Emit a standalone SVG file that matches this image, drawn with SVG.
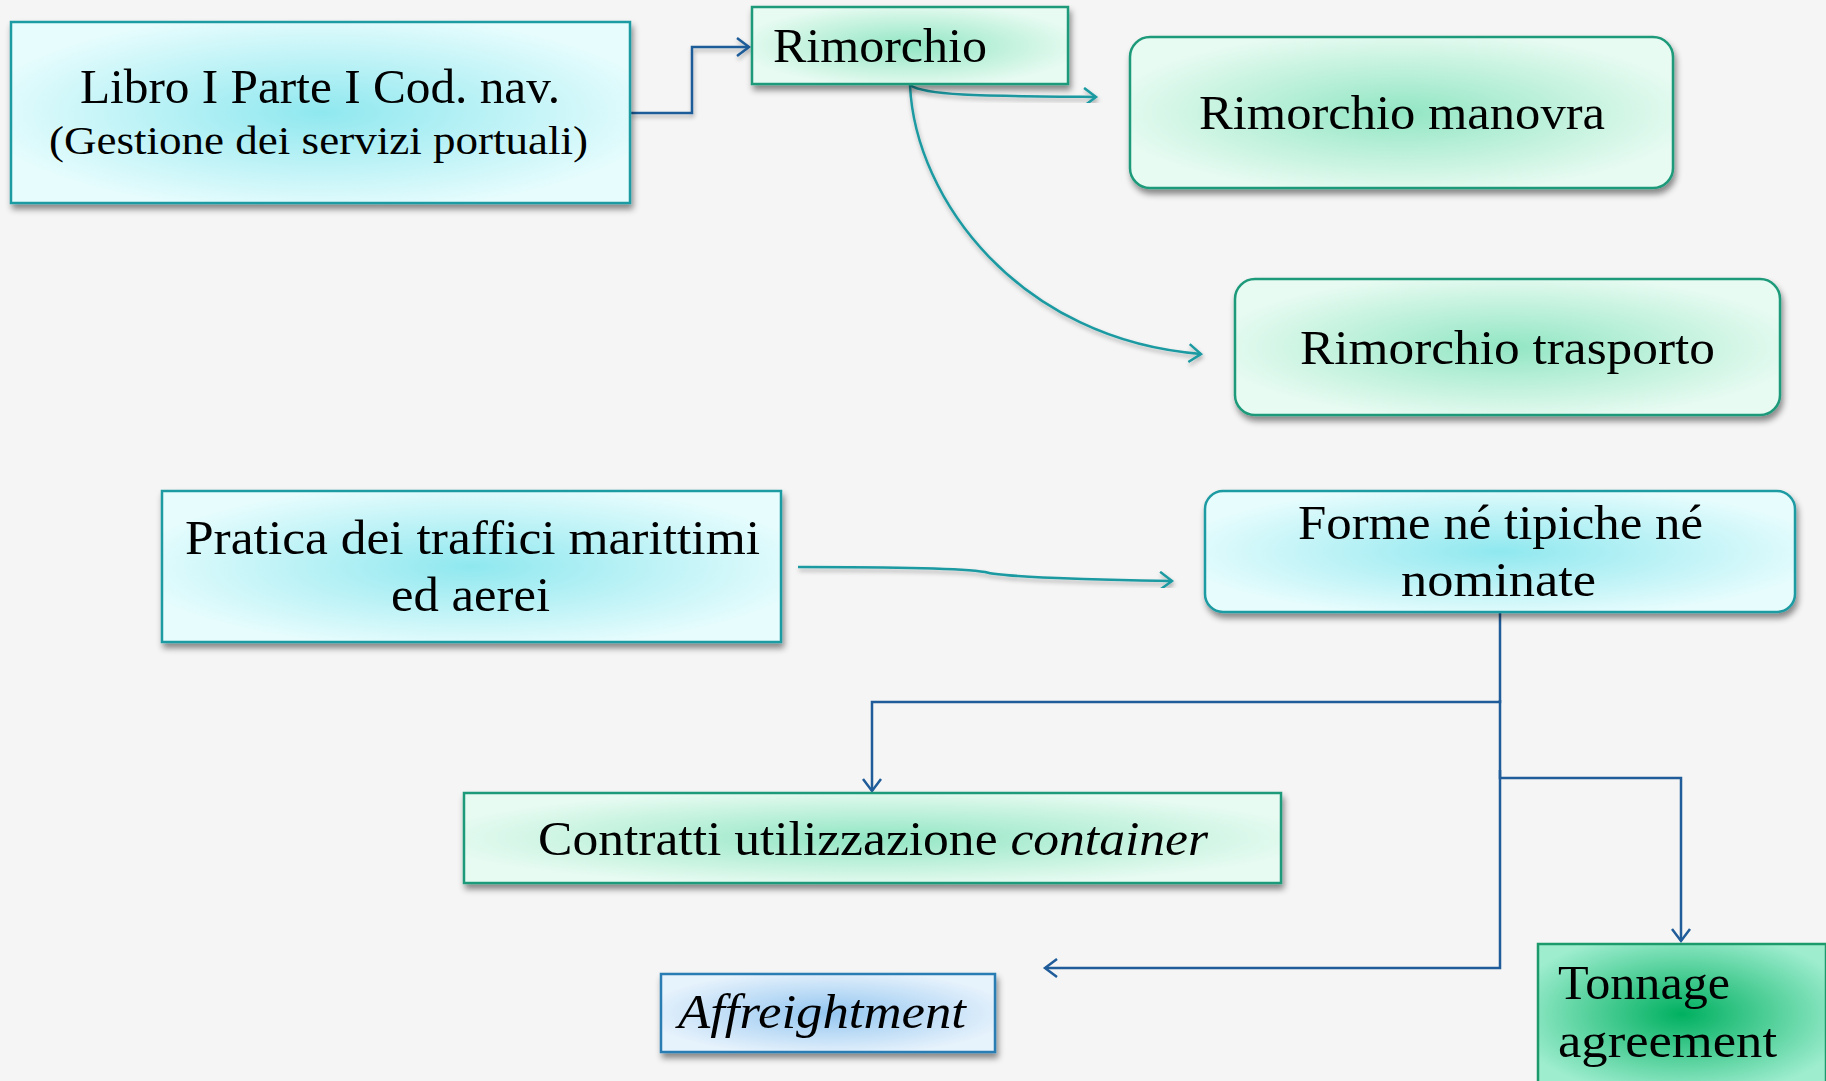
<svg xmlns="http://www.w3.org/2000/svg" width="1826" height="1081" viewBox="0 0 1826 1081">
<style>
.t{font-family:"Liberation Serif","DejaVu Serif",serif;fill:#000;}
.cy{stroke:#1f9ba3;stroke-width:2.5;}
.mn{stroke:#1c9a7a;stroke-width:2.5;}
.bl{stroke:#2a7db3;stroke-width:2.5;}
.tg{stroke:#1c9a6c;stroke-width:2.5;}
.cb{fill:none;stroke:#1f5c99;stroke-width:2.5;}
.ct{fill:none;stroke:#1b9aa2;stroke-width:2.5;}
</style>
<defs>
<radialGradient id="gCy" cx="0.5" cy="0.5" r="0.55"><stop offset="0" stop-color="#8fe8ef"/><stop offset="1" stop-color="#e6fcfd"/></radialGradient>
<radialGradient id="gMn" cx="0.5" cy="0.5" r="0.55"><stop offset="0" stop-color="#92e6c4"/><stop offset="1" stop-color="#e8fbf2"/></radialGradient>
<radialGradient id="gBl" cx="0.5" cy="0.5" r="0.55"><stop offset="0" stop-color="#94c6f0"/><stop offset="1" stop-color="#e6f2fc"/></radialGradient>
<radialGradient id="gTg" cx="0.5" cy="0.5" r="0.6"><stop offset="0" stop-color="#00b060"/><stop offset="1" stop-color="#9eedcf"/></radialGradient>
<filter id="sh" x="-10%" y="-10%" width="120%" height="130%"><feDropShadow dx="2" dy="5" stdDeviation="3" flood-color="#000" flood-opacity="0.45"/></filter>
<filter id="lsh" x="-5%" y="-50%" width="110%" height="200%"><feDropShadow dx="1" dy="3" stdDeviation="2" flood-color="#000" flood-opacity="0.3"/></filter>
<marker id="aB" markerUnits="userSpaceOnUse" markerWidth="16" markerHeight="22" refX="13" refY="10" orient="auto"><path d="M1,1 L13,10 L1,19" fill="none" stroke="#1f5c99" stroke-width="2.5"/></marker>
<marker id="aT" markerUnits="userSpaceOnUse" markerWidth="16" markerHeight="22" refX="13" refY="10" orient="auto"><path d="M1,1 L13,10 L1,19" fill="none" stroke="#1b9aa2" stroke-width="2.5"/></marker>
</defs>
<rect x="0" y="0" width="1826" height="1081" fill="#f5f5f5"/>

<g id="connectors">
<path class="cb" filter="url(#lsh)" d="M631,113 H692 V47 H749" marker-end="url(#aB)"/>
<path class="ct" filter="url(#lsh)" d="M910,85 C925,96 985,96 1096,97" marker-end="url(#aT)"/>
<path class="ct" filter="url(#lsh)" d="M910,85 C915,200 1020,340 1201,354" marker-end="url(#aT)"/>
<path class="ct" filter="url(#lsh)" d="M798,567 C880,567 960,568 985,572 C1000,577 1100,580 1172,581" marker-end="url(#aT)"/>
<path class="cb" d="M1500,612 V702 H872 V791" marker-end="url(#aB)"/>
<path class="cb" d="M1500,700 V778 H1681 V941" marker-end="url(#aB)"/>
<path class="cb" d="M1500,770 V968 H1045" marker-end="url(#aB)"/>
</g>

<g id="n-libro">
<rect x="11" y="22" width="619" height="181" fill="url(#gCy)" class="cy" filter="url(#sh)"/>
<text class="t" x="80" y="103" font-size="48" textLength="480" lengthAdjust="spacingAndGlyphs">Libro I Parte I Cod. nav.</text>
<text class="t" x="49" y="154" font-size="41" textLength="539" lengthAdjust="spacingAndGlyphs">(Gestione dei servizi portuali)</text>
</g>

<g id="n-rimorchio">
<rect x="752" y="7" width="316" height="77" fill="url(#gMn)" class="mn" filter="url(#sh)"/>
<text class="t" x="773" y="62" font-size="48" textLength="214" lengthAdjust="spacingAndGlyphs">Rimorchio</text>
</g>

<g id="n-manovra">
<rect x="1130" y="37" width="543" height="151" rx="20" fill="url(#gMn)" class="mn" filter="url(#sh)"/>
<text class="t" x="1199" y="129" font-size="48" textLength="406" lengthAdjust="spacingAndGlyphs">Rimorchio manovra</text>
</g>

<g id="n-trasporto">
<rect x="1235" y="279" width="545" height="136" rx="20" fill="url(#gMn)" class="mn" filter="url(#sh)"/>
<text class="t" x="1300" y="364" font-size="48" textLength="415" lengthAdjust="spacingAndGlyphs">Rimorchio trasporto</text>
</g>

<g id="n-pratica">
<rect x="162" y="491" width="619" height="151" fill="url(#gCy)" class="cy" filter="url(#sh)"/>
<text class="t" x="185" y="554" font-size="48" textLength="575" lengthAdjust="spacingAndGlyphs">Pratica dei traffici marittimi</text>
<text class="t" x="391" y="611" font-size="48" textLength="159" lengthAdjust="spacingAndGlyphs">ed aerei</text>
</g>

<g id="n-forme">
<rect x="1205" y="491" width="590" height="121" rx="18" fill="url(#gCy)" class="cy" filter="url(#sh)"/>
<text class="t" x="1298" y="539" font-size="48" textLength="405" lengthAdjust="spacingAndGlyphs">Forme né tipiche né</text>
<text class="t" x="1401" y="596" font-size="48" textLength="195" lengthAdjust="spacingAndGlyphs">nominate</text>
</g>

<g id="n-contratti">
<rect x="464" y="793" width="817" height="90" fill="url(#gMn)" class="mn" filter="url(#sh)"/>
<text class="t" x="538" y="855" font-size="48" textLength="670" lengthAdjust="spacingAndGlyphs">Contratti utilizzazione <tspan font-style="italic">container</tspan></text>
</g>

<g id="n-affreightment">
<rect x="661" y="974" width="334" height="78" fill="url(#gBl)" class="bl" filter="url(#sh)"/>
<text class="t" x="678" y="1028" font-size="48" font-style="italic" textLength="288" lengthAdjust="spacingAndGlyphs">Affreightment</text>
</g>

<g id="n-tonnage">
<rect x="1538" y="944" width="288" height="140" fill="url(#gTg)" class="tg"/>
<text class="t" x="1558" y="999" font-size="49" textLength="172" lengthAdjust="spacingAndGlyphs">Tonnage</text>
<text class="t" x="1558" y="1057" font-size="49" textLength="219" lengthAdjust="spacingAndGlyphs">agreement</text>
</g>
</svg>
